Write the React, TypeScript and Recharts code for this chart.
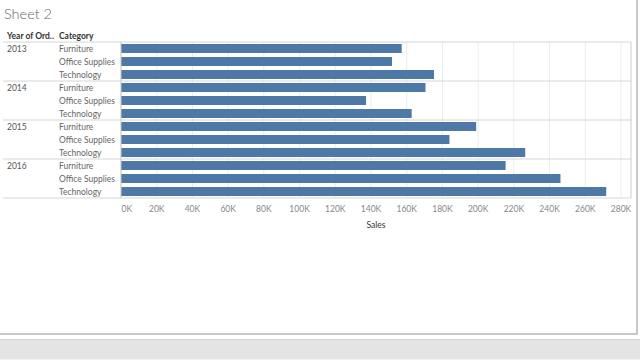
import React from 'react';
import { BarChart, Bar, XAxis, YAxis, CartesianGrid, ReferenceLine } from 'recharts';

const years = ['2013', '2014', '2015', '2016'];
const categories = ['Furniture', 'Office Supplies', 'Technology'];
const sales2013 = [157193, 151776, 175278];
const sales2014 = [170518, 137233, 162780];
const sales2015 = [198901, 183940, 226364];
const sales2016 = [215387, 246097, 271731];
const salesByYear = [sales2013, sales2014, sales2015, sales2016];
const xTicks = [0, 20000, 40000, 60000, 80000, 100000, 120000, 140000, 160000, 180000, 200000, 220000, 240000, 260000, 280000];
const xMax = 285600;

const rows = years.flatMap((year, yi) =>
  categories.map((cat, ci) => ({ id: `${year}|${cat}`, year, cat, sales: salesByYear[yi][ci] }))
);

const FONT = 'Lato, "Open Sans", sans-serif';
const LINE_X1 = 3;
const LINE_X2 = 631;

function RowTick(props: any) {
  const { y, payload } = props;
  const [year, cat] = String(payload.value).split('|');
  const off = typeof payload.offset === 'number' && payload.offset > 0 ? payload.offset : 6.5;
  const isFirst = cat === categories[0];
  const isLast = payload.value === rows[rows.length - 1].id;
  return (
    <g>
      {isFirst && <line x1={LINE_X1} x2={LINE_X2} y1={y - off} y2={y - off} stroke="#d6d6d6" strokeWidth={1} />}
      {isFirst && (
        <text x={7} y={y + 0.5} dy="0.35em" fontSize={8.5} fill="#555" fontFamily={FONT}>
          {year}
        </text>
      )}
      <text x={59} y={y + 0.5} dy="0.35em" fontSize={8.5} fill="#666" fontFamily={FONT}>
        {cat}
      </text>
      {isLast && <line x1={LINE_X1} x2={LINE_X2} y1={y + off} y2={y + off} stroke="#d6d6d6" strokeWidth={1} />}
    </g>
  );
}

function SalesTick(props: any) {
  const { x, y, payload } = props;
  const first = payload.value === xTicks[0];
  return (
    <text
      x={first ? x + 0.5 : x}
      y={y}
      dy="0.71em"
      textAnchor={first ? 'start' : 'middle'}
      fontSize={8.5}
      fill="#888"
      fontFamily={FONT}
    >
      {`${payload.value / 1000}K`}
    </text>
  );
}

export default function App() {
  return (
    <div style={{ position: 'fixed', left: 0, top: 0, width: 640, height: 360, background: '#fff', overflow: 'hidden', fontFamily: FONT }}>
      <div style={{ position: 'absolute', left: 4, top: 4, fontSize: 14.5, color: '#666', fontWeight: 300, fontFamily: FONT, lineHeight: '20px' }}>Sheet 2</div>
      <div style={{ position: 'absolute', left: 7, top: 31, fontSize: 8.5, color: '#333', fontWeight: 700, lineHeight: '10px' }}>Year of Ord..</div>
      <div style={{ position: 'absolute', left: 59, top: 31, fontSize: 8.5, color: '#333', fontWeight: 700, lineHeight: '10px' }}>Category</div>
      <div style={{ position: 'absolute', left: 0, top: 0 }}>
        <BarChart
          width={640}
          height={360}
          data={rows}
          layout="vertical"
          margin={{ top: 42, right: 9, bottom: 132, left: 0 }}
          barCategoryGap={2}
        >
          <CartesianGrid horizontal={false} vertical={true} stroke="#ececec" />
          <XAxis
            type="number"
            domain={[0, xMax]}
            ticks={xTicks}
            interval={0}
            allowDataOverflow
            axisLine={false}
            tickLine={false}
            height={30}
            tick={<SalesTick />}
            label={{ value: 'Sales', position: 'insideBottom', offset: 0, fontSize: 8.5, fill: '#333', fontFamily: FONT }}
          />
          <YAxis
            type="category"
            dataKey="id"
            width={121}
            axisLine={{ stroke: '#c8c8c8' }}
            tickLine={false}
            interval={0}
            tick={<RowTick />}
          />
          <ReferenceLine x={xMax} stroke="#d6d6d6" ifOverflow="extendDomain" />
          <Bar dataKey="sales" fill="#4e79a7" isAnimationActive={false} />
        </BarChart>
      </div>
      <div style={{ position: 'absolute', left: 636, top: 0, width: 2, height: 335, background: '#c8c8c8' }} />
      <div style={{ position: 'absolute', left: 0, top: 333, width: 638, height: 2, background: '#c8c8c8' }} />
      <div style={{ position: 'absolute', left: 0, top: 339, width: 640, height: 21, background: '#e4e4e4', borderTop: '1px solid #d4d4d4', boxSizing: 'border-box' }} />
      <div style={{ position: 'absolute', left: 0, top: 359, width: 640, height: 1, background: '#f0f0f0' }} />
    </div>
  );
}
